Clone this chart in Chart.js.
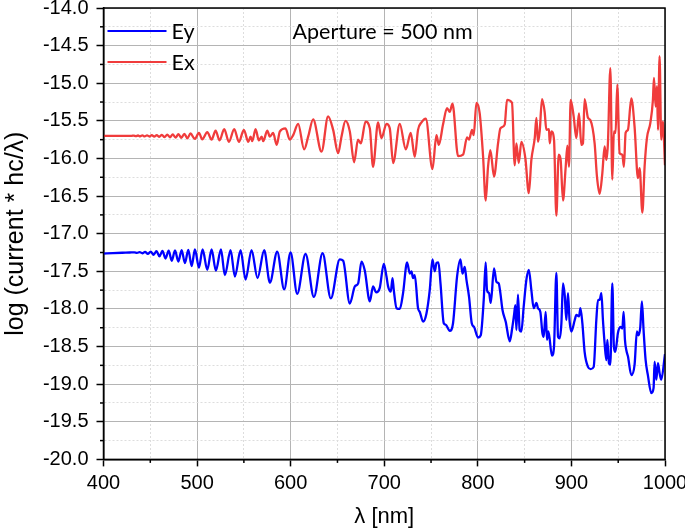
<!DOCTYPE html>
<html><head><meta charset="utf-8">
<script src="https://cdn.jsdelivr.net/npm/chart.js@4.4.1/dist/chart.umd.min.js"></script>
<style>html,body{margin:0;padding:0;background:#fff;}canvas{display:block;}</style>
</head><body>
<canvas id="c" width="685" height="532"></canvas>
<script>
// ---- data ----
const exX = [400,415,430,432.3,434.6,436.9,439.2,441.6,444.0,446.5,
  449.0,451.6,454.2,456.9,459.6,462.4,465.2,468.1,471.0,474.0,
  477.0,480.1,483.2,486.4,489.6,493.0,497.5,502,505.5,510.9,
  515.5,519.8,524,529,534,539.7,544.7,550,554.7,557.2,
  559,562.5,566,569,570.7,575,577.8,581.3,585,588.5,
  594.5,599,602.7,608,614.4,618.7,624,633,640,645.4,
  650.7,654.3,658.6,663.2,667.8,672,675,680,684.6,688,
  693.4,697,702.4,705.9,709.5,716.6,723,728.3,732.6,736.1,
  739.8,744.4,751.5,755.8,758.3,762.8,767.1,770,772.9,778.9,
  784.2,788.5,790.6,793.8,795.6,798.5,802,805.6,808.4,810.9,
  813.4,817.3,821.6,824.1,828.7,831.2,836.5,839.4,841.2,843.7,
  846.5,850.8,854.5,857.2,860.8,862.6,864.3,866.1,868.6,871.4,
  873.2,876,876.8,878.6,881.4,883.9,886.4,888.5,891,893.9,
  895.7,897.4,899.2,902.4,905.3,908.1,910.6,912.3,914.1,917.7,
  920.2,924.8,927.3,930.2,933,935.5,937.3,939,941.6,943.7,
  945.4,947.2,949,951.5,954.4,956.1,957.9,960.4,964,967.5,
  971.1,972.9,975.8,978.2,980.7,984.3,987.1,988.2,990,991.4,
  992.5,994.2,996,997.7,1000];
const exY = [-15.700,-15.700,-15.700,-15.696,-15.704,-15.695,-15.705,-15.694,-15.706,-15.693,
  -15.708,-15.691,-15.710,-15.689,-15.712,-15.686,-15.715,-15.683,-15.718,-15.680,
  -15.722,-15.676,-15.727,-15.672,-15.732,-15.668,-15.740,-15.660,-15.745,-15.650,
  -15.750,-15.630,-15.760,-15.610,-15.780,-15.610,-15.780,-15.620,-15.780,-15.710,
  -15.770,-15.610,-15.760,-15.710,-15.770,-15.630,-15.710,-15.660,-15.820,-15.640,
  -15.600,-15.750,-15.690,-15.540,-15.880,-15.710,-15.480,-15.910,-15.440,-15.620,
  -15.930,-15.710,-15.500,-15.640,-16.050,-15.750,-15.800,-15.510,-15.600,-16.110,
  -15.520,-15.730,-15.540,-15.600,-16.060,-15.540,-15.880,-15.660,-15.980,-15.620,
  -15.520,-15.470,-16.140,-15.690,-15.820,-15.550,-15.330,-15.380,-15.270,-15.970,
  -15.950,-15.720,-15.750,-15.620,-15.690,-15.260,-15.400,-15.970,-16.560,-16.110,
  -15.890,-16.240,-15.800,-15.600,-15.550,-15.220,-15.260,-16.090,-15.800,-16.060,
  -15.780,-16.000,-16.460,-16.020,-15.730,-15.460,-15.780,-15.640,-15.210,-15.380,
  -15.620,-15.610,-15.800,-15.640,-15.750,-16.760,-15.950,-16.020,-16.560,-16.110,
  -15.830,-16.110,-15.220,-15.440,-15.730,-15.400,-15.820,-15.800,-15.210,-15.460,
  -15.490,-15.800,-16.240,-16.470,-16.200,-15.840,-16.020,-15.800,-14.800,-16.280,
  -15.640,-15.660,-15.020,-15.930,-15.950,-16.110,-15.660,-15.620,-15.200,-15.580,
  -16.260,-16.130,-16.720,-16.110,-15.730,-15.530,-15.220,-14.930,-15.310,-15.040,
  -15.620,-14.640,-15.750,-15.510,-16.090];

const eyX = [400,410,420,428,433,435.8,438.6,441.5,444.4,447.4,
  450.4,453.5,456.6,459.8,463,466.3,469.6,473,476.4,480,
  483.5,487,490.6,494.2,497.7,502,505.9,510.9,515.5,520.1,
  525.5,529.7,535.8,540.4,546.5,551.8,558.2,564.6,571.7,577.8,
  585.6,593.1,599.9,607,615.9,624.8,634.1,642.9,652.5,656.1,
  663.2,668.6,672.1,675.7,679.2,684.6,688,691.4,695.2,699.5,
  702.4,704.1,707,708.8,710.2,713.1,716.6,720.1,724.4,727.3,
  729.1,730.8,732.6,736.1,738,741.5,745.1,748.6,751.5,754,
  755.8,757.9,760.1,763.6,765.7,770,773.5,777.8,781.4,783.6,
  786,787.8,790.6,793.5,796,800.2,803.1,806.3,808.4,809.8,
  812,813.8,817.3,819.9,822.3,824.1,826.3,829.8,834.1,836.9,
  838.7,840.1,841.2,842.9,844.7,846.5,849,851.9,854.5,857.2,
  859.7,862.6,864.3,866.8,869,870.4,872.5,873.9,875.4,879.2,
  881.4,883.9,885.7,887.5,889.3,891,892.8,894.6,896.3,898.1,
  899.9,903.5,905.3,908.1,909.6,911.7,914.1,917.7,920.6,923.8,
  926.6,928.4,930.2,932,933.7,935.5,937.3,938.4,940.1,941.6,
  943.7,945.4,946.9,949.7,952.3,954.4,955.8,957.2,958.7,960.4,
  964,967.5,970,971.8,973.6,975.3,977.1,979.3,981.7,985.4,
  987.8,988.9,990.7,992.5,994.3,996,1000];
const eyY = [-17.265,-17.258,-17.253,-17.250,-17.247,-17.254,-17.244,-17.260,-17.241,-17.268,
  -17.237,-17.280,-17.233,-17.300,-17.229,-17.330,-17.225,-17.360,-17.222,-17.370,
  -17.218,-17.390,-17.215,-17.430,-17.210,-17.450,-17.210,-17.480,-17.210,-17.490,
  -17.210,-17.550,-17.220,-17.570,-17.220,-17.610,-17.220,-17.590,-17.220,-17.650,
  -17.240,-17.740,-17.250,-17.800,-17.270,-17.840,-17.260,-17.860,-17.340,-17.360,
  -17.930,-17.700,-17.660,-17.370,-17.490,-17.900,-17.700,-17.780,-17.720,-17.400,
  -17.570,-17.700,-17.770,-17.590,-17.750,-17.990,-18.000,-17.790,-17.380,-17.530,
  -17.500,-17.590,-17.550,-17.990,-18.040,-18.170,-18.060,-17.750,-17.340,-17.500,
  -17.390,-17.380,-17.660,-18.190,-18.210,-18.290,-18.190,-17.570,-17.340,-17.530,
  -17.440,-17.610,-17.840,-18.190,-18.240,-18.380,-18.350,-17.880,-17.380,-17.750,
  -17.790,-17.920,-17.460,-17.640,-17.660,-17.790,-18.010,-18.170,-18.430,-18.240,
  -18.080,-17.950,-18.280,-17.810,-18.280,-18.300,-17.970,-17.610,-17.480,-17.750,
  -17.990,-17.920,-17.990,-18.040,-18.320,-18.370,-18.040,-18.410,-18.300,-18.620,
  -18.500,-17.520,-18.370,-18.390,-18.190,-17.660,-17.810,-18.150,-17.790,-18.170,
  -18.300,-18.150,-18.080,-18.100,-17.990,-18.190,-18.570,-18.770,-18.800,-18.770,
  -18.150,-17.880,-17.880,-17.790,-18.150,-18.460,-18.680,-18.410,-18.720,-18.740,
  -17.660,-18.500,-18.570,-18.320,-18.240,-18.260,-18.040,-18.410,-18.550,-18.630,
  -18.880,-18.740,-18.300,-18.350,-18.240,-17.900,-18.280,-18.680,-18.880,-19.120,
  -19.050,-18.700,-18.940,-18.720,-18.860,-18.940,-18.600];

const seriesNames = ['Ey', 'Ex'];
const seriesColors = ['#0000ff', '#f03c3c'];
const xTitle = 'λ [nm]';
const yTitle = 'log (current * hc/λ)';
const noteText = 'Aperture = 500 nm';

const toPts = (xs, ys) => xs.map((x, i) => ({x: x, y: ys[i]}));
const isMajorY = v => Math.abs(v * 2 - Math.round(v * 2)) < 1e-6;
const isMajorX = v => Math.abs(v / 100 - Math.round(v / 100)) < 1e-6;
const tickFont = {family: "'Liberation Sans', Arial, sans-serif", size: 20};
const xTitleFont = {family: "'Liberation Sans', Arial, sans-serif", size: 22};
const yTitleFont = {family: "'Liberation Sans', Arial, sans-serif", size: 25};

const decor = {
  id: 'decor',
  afterDatasetsDraw(chart) {
    const {ctx, chartArea: a, scales: {x, y}} = chart;
    ctx.save();
    ctx.strokeStyle = '#000'; ctx.lineWidth = 1.5;
    y.ticks.forEach(t => {
      if (isMajorY(t.value)) return;
      const py = y.getPixelForValue(t.value);
      ctx.beginPath(); ctx.moveTo(a.left - 3.5, py); ctx.lineTo(a.left, py); ctx.stroke();
    });
    x.ticks.forEach(t => {
      if (isMajorX(t.value)) return;
      const px = x.getPixelForValue(t.value);
      ctx.beginPath(); ctx.moveTo(px, a.bottom); ctx.lineTo(px, a.bottom + 3.5); ctx.stroke();
    });
    ctx.lineWidth = 1.5;
    ctx.strokeRect(a.left, a.top, a.right - a.left, a.bottom - a.top);
    ctx.font = "21.5px Lato, 'Open Sans', sans-serif";
    ctx.textBaseline = 'middle';
    chart.data.datasets.forEach((ds, i) => {
      const ly = a.top + 23 + i * 31;
      ctx.strokeStyle = ds.borderColor; ctx.lineWidth = 2;
      ctx.beginPath(); ctx.moveTo(a.left + 4, ly); ctx.lineTo(a.left + 63, ly); ctx.stroke();
      ctx.fillStyle = '#000';
      ctx.fillText(ds.label, a.left + 68, ly + 1);
    });
    ctx.fillText(noteText, a.left + 189, a.top + 24);
    ctx.restore();
  }
};

new Chart(document.getElementById('c'), {
  type: 'line',
  data: {
    datasets: [
      {label: seriesNames[0], data: toPts(eyX, eyY), borderColor: seriesColors[0], borderWidth: 2.3, pointRadius: 0, cubicInterpolationMode: 'monotone'},
      {label: seriesNames[1], data: toPts(exX, exY), borderColor: seriesColors[1], borderWidth: 2.3, pointRadius: 0, cubicInterpolationMode: 'monotone'}
    ]
  },
  options: {
    responsive: false, animation: false, devicePixelRatio: 1,
    layout: {padding: {top: 8, right: 20, left: 0, bottom: 0}},
    plugins: {legend: {display: false}, tooltip: {enabled: false}},
    scales: {
      x: {
        type: 'linear', min: 400, max: 1000,
        ticks: {stepSize: 50, autoSkip: false, maxRotation: 0, color: '#000', font: tickFont, padding: 5,
          callback: v => isMajorX(v) ? String(v) : ''},
        grid: {color: c => (c.tick && isMajorX(c.tick.value)) ? '#b4b4b4' : '#dddddd', lineWidth: 1,
          tickLength: 7, tickWidth: 1.5, tickColor: c => (c.tick && isMajorX(c.tick.value)) ? '#000' : 'rgba(0,0,0,0)'},
        border: {color: '#000', width: 1.5, dash: c => (c.tick && !isMajorX(c.tick.value)) ? [2, 2] : []},
        title: {display: true, text: xTitle, color: '#000', font: xTitleFont, padding: {top: 4, bottom: 2}},
        afterFit: s => { s.height = 72.6; s.paddingLeft = 0; s.paddingRight = 0; }
      },
      y: {
        type: 'linear', min: -20, max: -14,
        ticks: {stepSize: 0.25, autoSkip: false, color: '#000', font: tickFont, padding: 8,
          callback: v => isMajorY(v) ? v.toFixed(1) : ''},
        grid: {color: c => (c.tick && isMajorY(c.tick.value)) ? '#b4b4b4' : '#dddddd', lineWidth: 1,
          tickLength: 7, tickWidth: 1.5, tickColor: c => (c.tick && isMajorY(c.tick.value)) ? '#000' : 'rgba(0,0,0,0)'},
        border: {color: '#000', width: 1.5, dash: c => (c.tick && !isMajorY(c.tick.value)) ? [2, 2] : []},
        title: {display: true, text: yTitle, color: '#000', font: yTitleFont, padding: {top: 1, bottom: 0}},
        afterFit: s => { s.width = 103.5; s.paddingTop = 0; s.paddingBottom = 0; }
      }
    }
  },
  plugins: [decor]
});
</script>
</body></html>
